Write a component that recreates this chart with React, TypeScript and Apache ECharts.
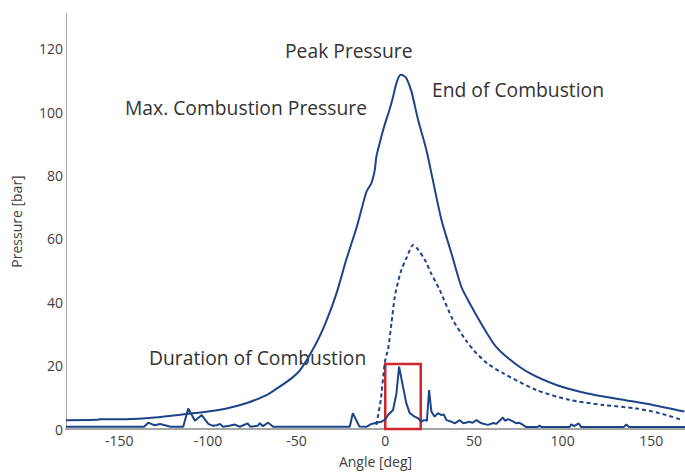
import React, { useEffect, useRef } from "react";
import * as echarts from "echarts";

// Angle [deg], Pressure [bar]
const pressureCurve: number[][] = [
  [-180, 2.8], [-162, 2.9], [-161, 3.1], [-146, 3.1], [-130, 3.6], [-112, 4.7], [-100, 5.5],
  [-89.5, 6.5], [-78, 8.2], [-67, 10.7], [-61, 12.8], [-54, 15.5], [-48, 18.6], [-39, 27],
  [-33, 34.4], [-27.5, 42.8], [-22, 53.4], [-16, 63.9], [-10.6, 74.9], [-7.8, 77.6],
  [-5.9, 81.8], [-5, 86], [-3, 90.5], [-1.2, 94.4], [2.5, 101], [4, 103.9], [6.3, 109.2],
  [8.7, 111.8], [10.5, 111.5], [12, 110.7], [14.8, 106.5], [18.5, 97.6], [23.2, 88.1],
  [26.6, 79.2], [31.7, 66], [37.3, 55.5], [42.9, 44.9], [47.6, 39.7], [55.1, 32.3],
  [61.7, 26.5], [70.1, 22], [81.4, 17.6], [96.5, 13.9], [113.4, 11.3], [132.1, 9.4],
  [150.9, 7.6], [168.7, 5.5],
];

const combustionCurve: number[][] = [
  [-5, 1.3], [-2.5, 9.2], [-2.1, 11.3], [-0.3, 20.7], [0.7, 23.4], [1.6, 25], [3.5, 33.4],
  [5.4, 41.8], [7, 46], [9.1, 50.2], [12, 54], [15.7, 58.1], [18, 57], [22.3, 53.4],
  [26, 49], [30.7, 43.9], [38.2, 34.4], [45.7, 27.8], [51.4, 23.9], [58, 20.5],
  [66.4, 17.6], [85.2, 12.3], [103.9, 9.2], [122.7, 7.6], [141.5, 6.5], [154.6, 5],
  [167.8, 2.8],
];

const heatRelease: number[][] = [
  [-180, 0.7], [-136, 0.7], [-133.6, 2.0], [-131, 1.4], [-129.9, 1.2], [-127, 1.6],
  [-124.2, 1.2], [-121, 0.7], [-113.9, 0.7], [-111.1, 6.5], [-107.3, 2.6], [-103.5, 4.4],
  [-99.8, 1.6], [-97, 1.0], [-95, 1.2], [-93.2, 1.6], [-91.4, 0.7], [-88, 1.0], [-84.8, 1.4],
  [-82, 0.7], [-77.6, 1.8], [-76, 0.7], [-72, 1.0], [-70.7, 1.8], [-69, 0.9], [-66, 2.0],
  [-63.2, 0.7], [-20, 0.7], [-18.3, 5.0], [-14.6, 0.8], [-10.6, 0.7], [-7.8, 1.6],
  [-5, 2.0], [-2.1, 2.3], [0, 3.0], [1.6, 4.4], [4.4, 6.0], [6.3, 11.2], [7.8, 19.7],
  [10, 13.4], [11.9, 8.1], [13.8, 5], [15.3, 4.4], [16.6, 3.9], [18.5, 3.4], [20.4, 2.3],
  [21.7, 2.8], [23.5, 2.6], [24.7, 12.3], [26, 5.5], [27.9, 3.9], [29.7, 5], [31.7, 4.4],
  [33, 4.6], [34.5, 2.8], [37.3, 2.3], [39.2, 1.8], [42, 2.8], [44, 1.8], [47.6, 2.3],
  [49, 1.9], [51.4, 2.8], [54.2, 1.8], [57.9, 1.3], [61, 1.9], [62.5, 1.6], [64.5, 2.6],
  [66.4, 3.6], [67.5, 2.6], [69.2, 3.1], [72, 2.4], [73.9, 1.8], [75.5, 2.0], [77.6, 1.3],
  [79.5, 0.6], [86, 0.6], [87, 1.1], [88, 0.6], [104, 0.6], [104.9, 1.5], [106.5, 0.9],
  [109, 1.8], [110.5, 0.6], [134.5, 0.6], [135.9, 1.4], [137.5, 0.6], [169, 0.6],
];

const xTicks = [-150, -100, -50, 0, 50, 100, 150];
const yTicks = [0, 20, 40, 60, 80, 100, 120];

// Duration of combustion window: [angle start, angle end], pressure top
const durationBox = { start: 0, end: 20, top: 20.5 };

const annotations = [
  { text: "Peak Pressure", x: 285, y: 50 },
  { text: "Max. Combustion Pressure", x: 125, y: 107 },
  { text: "End of Combustion", x: 432, y: 89 },
  { text: "Duration of Combustion", x: 149, y: 357 },
];

const BLUE = "#1d4488";
const FONT = "'Open Sans', 'Noto Sans', sans-serif";

export default function App() {
  const ref = useRef<HTMLDivElement>(null);
  useEffect(() => {
    document.body.style.margin = "0";
    const chart = echarts.init(ref.current!, null, { renderer: "svg" });
    chart.setOption({
      animation: false,
      backgroundColor: "#ffffff",
      grid: { left: 66, right: 0, top: 14, bottom: 44 },
      xAxis: {
        type: "value",
        min: -180,
        max: 169,
        name: "Angle [deg]",
        nameLocation: "middle",
        nameGap: 25,
        nameTextStyle: { fontSize: 14, color: "#404040", fontFamily: FONT },
        axisLine: { show: true, onZero: false, lineStyle: { color: "#a6a6a6", width: 2 } },
        axisTick: { show: false },
        splitLine: { show: false },
        axisLabel: {
          customValues: xTicks,
          fontSize: 14,
          color: "#404040",
          fontFamily: FONT,
          margin: 4,
        },
      },
      yAxis: {
        type: "value",
        min: 0,
        max: 131,
        name: "Pressure [bar]",
        nameLocation: "middle",
        nameGap: 43,
        nameTextStyle: { fontSize: 14, color: "#404040", fontFamily: FONT },
        axisLine: { show: true, onZero: false, lineStyle: { color: "#a6a6a6", width: 1 } },
        axisTick: { show: false },
        splitLine: { show: false },
        axisLabel: {
          customValues: yTicks,
          fontSize: 14,
          color: "#404040",
          fontFamily: FONT,
          margin: 3,
        },
      },
      series: [
        {
          type: "line",
          data: pressureCurve,
          showSymbol: false,
          smooth: 0.25,
          lineStyle: { color: BLUE, width: 2 },
        },
        {
          type: "line",
          data: combustionCurve,
          showSymbol: false,
          smooth: 0.25,
          lineStyle: { color: BLUE, width: 2, type: [4, 3] },
        },
        {
          type: "line",
          data: heatRelease,
          showSymbol: false,
          lineStyle: { color: BLUE, width: 2 },
          markArea: {
            silent: true,
            itemStyle: { color: "rgba(0,0,0,0)", borderColor: "#d0262d", borderWidth: 2.5 },
            data: [[
              { xAxis: durationBox.start, yAxis: 0 },
              { xAxis: durationBox.end, yAxis: durationBox.top },
            ]],
          },
        },
      ],
      graphic: annotations.map((a) => ({
        type: "text",
        x: a.x,
        y: a.y,
        style: {
          text: a.text,
          fontSize: 19.3,
          fontFamily: FONT,
          fill: "#333333",
          align: "left",
          verticalAlign: "middle",
        },
      })),
    });
    return () => chart.dispose();
  }, []);
  return <div ref={ref} style={{ width: 685, height: 473 }} />;
}
